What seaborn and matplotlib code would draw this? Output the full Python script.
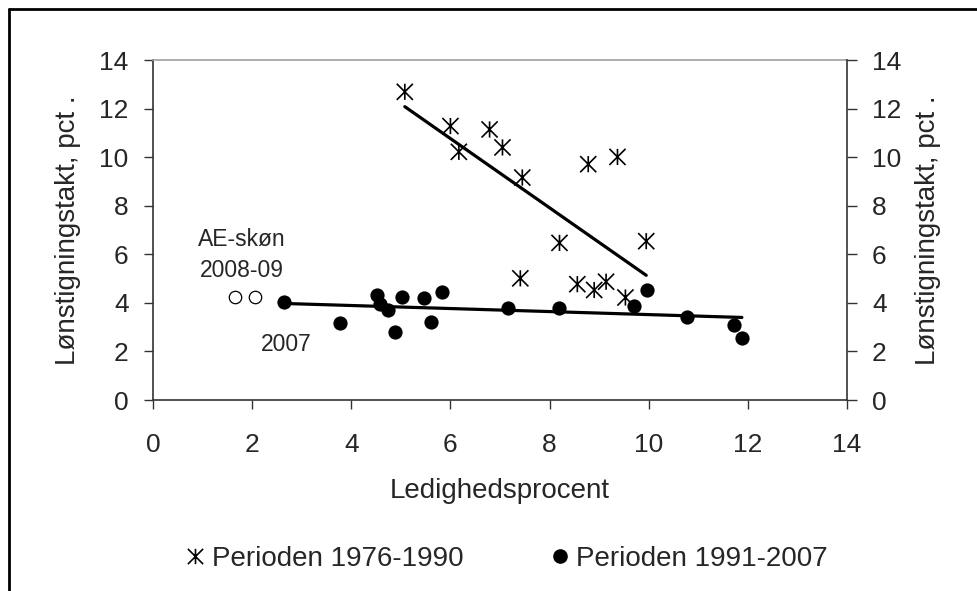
import numpy as np
import matplotlib
matplotlib.use("Agg")
import matplotlib.pyplot as plt
from matplotlib.path import Path
from matplotlib.lines import Line2D
import seaborn as sns

# Perioden 1976-1990 (stjerner)
ledighed_7690 = [5.08, 6.00, 6.17, 6.79, 7.05, 7.45, 7.41, 8.20, 8.78, 9.37, 8.56, 8.90, 9.14, 9.53, 9.95]
loen_7690 = [12.69, 11.28, 10.22, 11.14, 10.40, 9.16, 5.01, 6.47, 9.71, 10.01, 4.77, 4.53, 4.87, 4.22, 6.54]

# Perioden 1991-2007 (fyldte cirkler)
ledighed_9107 = [2.64, 3.77, 4.52, 4.57, 4.75, 4.88, 5.03, 5.46, 5.61, 5.83, 7.16, 8.19, 9.71, 9.97, 10.78, 11.73, 11.88]
loen_9107 = [4.05, 3.16, 4.33, 3.95, 3.72, 2.79, 4.25, 4.18, 3.23, 4.46, 3.77, 3.77, 3.88, 4.53, 3.40, 3.09, 2.56]

# AE-skøn 2008-09 (åbne cirkler)
ledighed_ae = [1.65, 2.05]
loen_ae = [4.25, 4.25]

ticks = [0, 2, 4, 6, 8, 10, 12, 14]
ylabel = "Lønstigningstakt, pct ."
xlabel = "Ledighedsprocent"
labels = ["Perioden 1976-1990", "Perioden 1991-2007"]

sns.set_style("white")
plt.rcParams["font.family"] = ["Liberation Sans", "DejaVu Sans"]

# stjerne-markør som i Excel: X med lodret streg
star = Path([(0, -1), (0, 1), (-1, -1), (1, 1), (-1, 1), (1, -1)],
            [Path.MOVETO, Path.LINETO] * 3)

fig = plt.figure(figsize=(9.78, 5.91), dpi=100)
ax = fig.add_axes([153 / 978, 1 - 400 / 591, 694 / 978, 340 / 591])

sns.regplot(x=ledighed_7690, y=loen_7690, scatter=False, ci=None, truncate=True,
            line_kws={"color": "black", "lw": 2.3}, ax=ax)
sns.regplot(x=ledighed_9107, y=loen_9107, scatter=False, ci=None, truncate=True,
            line_kws={"color": "black", "lw": 2.3}, ax=ax)

sns.scatterplot(x=ledighed_7690, y=loen_7690, marker=star, s=135,
                facecolor="none", edgecolor="black", linewidth=1.2, ax=ax, zorder=3)
sns.scatterplot(x=ledighed_9107, y=loen_9107, marker="o", s=105,
                color="black", linewidth=0, ax=ax, zorder=3)
sns.scatterplot(x=ledighed_ae, y=loen_ae, marker="o", s=80,
                facecolor="white", edgecolor="black", linewidth=0.9, ax=ax, zorder=3)

ax.text(1.80, 6.34, "AE-skøn", ha="center", va="baseline", fontsize=16.5)
ax.text(1.79, 5.06, "2008-09", ha="center", va="baseline", fontsize=16.5)
ax.text(2.68, 2.02, "2007", ha="center", va="baseline", fontsize=16.5)

ax.set_xlim(0, 14)
ax.set_ylim(0, 14)
ax.set_xticks(ticks)
ax.set_yticks(ticks)
ax.tick_params(axis="x", direction="out", length=6.5, width=1, pad=17,
               labelsize=19, color="#333333", bottom=True)
ax.tick_params(axis="y", direction="out", length=6.5, width=1, pad=11,
               labelsize=19, color="#333333", left=True)
ax.set_xlabel(xlabel, fontsize=20)
ax.xaxis.set_label_coords(0.5, -0.229)
ax.xaxis.label.set_verticalalignment("top")
ax.set_ylabel(ylabel, fontsize=20)
ax.yaxis.set_label_coords(-0.104, 0.5)

for side in ["left", "bottom"]:
    ax.spines[side].set_color("#333333")
    ax.spines[side].set_linewidth(1.2)
ax.spines["right"].set_visible(False)
ax.spines["top"].set_color("#a0a0a0")
ax.spines["top"].set_linewidth(1.2)

ax2 = ax.twinx()
ax2.set_ylim(0, 14)
ax2.set_yticks(ticks)
ax2.tick_params(axis="y", direction="out", length=7, width=1, pad=11,
                labelsize=19, color="#333333", right=True)
ax2.set_ylabel(ylabel, fontsize=20, rotation=90)
ax2.yaxis.set_label_coords(1.098, 0.5)
for side in ["left", "bottom", "top"]:
    ax2.spines[side].set_visible(False)
ax2.spines["right"].set_color("#333333")
ax2.spines["right"].set_linewidth(1.2)

handles = [
    Line2D([], [], marker=star, linestyle="none", markerfacecolor="none",
           markeredgecolor="black", markeredgewidth=1.2, markersize=11),
    Line2D([], [], marker="o", linestyle="none", color="black", markersize=9.5),
]
fig.legend(handles, labels, loc="center", bbox_to_anchor=(0.519, 0.054), ncol=2,
           frameon=False, fontsize=20, handlelength=0.6, handletextpad=0.28,
           columnspacing=3.2)

# ramme om figuren (kun top og venstre synlig)
fig.add_artist(Line2D([9 / 978, 1], [1 - 9 / 591, 1 - 9 / 591], color="black", lw=2))
fig.add_artist(Line2D([9 / 978, 9 / 978], [0, 1 - 9 / 591], color="black", lw=2))

fig.savefig("out.png", dpi=100)
